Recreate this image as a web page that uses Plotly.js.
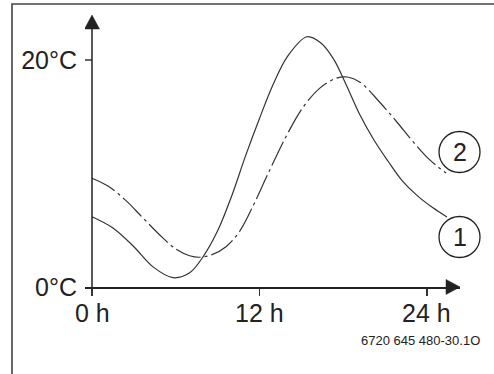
<!DOCTYPE html>
<html>
<head>
<meta charset="utf-8">
<script src="https://cdn.plot.ly/plotly-3.0.1.min.js"></script>
<style>html,body{margin:0;padding:0;background:#fff;}#chart{width:494px;height:374px;}</style>
</head>
<body>
<div id="chart"></div>
<script>
// Curve 1 (solid)
const hours1 = [0, 1.5, 3.0, 4.4, 5.8, 7.0, 8.0, 9.0, 10.0, 11.0, 12.0, 13.0, 14.0, 15.4, 16.4, 17.3, 18.2, 19.2, 20.2, 21.2, 22.2, 23.3, 24.4, 25.43];
const temp1  = [6.19, 5.2, 3.55, 1.75, 0.82, 1.25, 2.75, 4.95, 8.0, 11.55, 14.85, 17.9, 20.3, 22.05, 21.5, 20.1, 17.85, 15.15, 12.95, 11.1, 9.4, 8.05, 7.0, 6.17];
// Curve 2 (dash-dot)
const hours2 = [0, 1.2, 2.4, 3.6, 4.8, 6.0, 7.0, 7.7, 8.6, 9.6, 10.6, 11.6, 12.6, 13.9, 15.1, 16.3, 17.5, 18.3, 19.2, 20.6, 21.9, 23.0, 24.2, 25.36];
const temp2  = [9.58, 8.85, 7.65, 6.15, 4.65, 3.35, 2.75, 2.62, 2.85, 3.55, 4.95, 7.3, 9.95, 13.25, 15.8, 17.5, 18.4, 18.5, 18.05, 16.3, 14.45, 12.8, 11.2, 10.04];

const xTickVals = [0, 12, 24];
const xTickText = ['0 h', '12 h', '24 h'];
const yTickVals = [0, 20];
const yTickText = ['0°C', '20°C'];
const curveLabels = ['1', '2'];
const codeText = '6720 645 480-30.1O';

const font = 'Liberation Sans, Arial, Helvetica, sans-serif';
const ink = '#222';

const traces = [
  {x: hours1, y: temp1, mode: 'lines', line: {shape: 'spline', smoothing: 1, color: '#333', width: 1.2}, hoverinfo: 'skip'},
  {x: hours2, y: temp2, mode: 'lines', line: {shape: 'spline', smoothing: 1, color: '#333', width: 1.2, dash: '26px,4px,3px,4px'}, hoverinfo: 'skip'}
];

const labelX = 0.9987;
const labelY = [0.1838, 0.4963];

const shapes = [
  {type: 'rect', xref: 'paper', yref: 'paper', x0: -0.1947, x1: 1.0947, y0: -0.35, y1: 1.0404, line: {color: '#444', width: 1.6}, layer: 'below'},
  {type: 'line', xref: 'x', yref: 'paper', x0: 0, x1: 0, y0: 0, y1: 0.97, line: {color: ink, width: 1.5}},
  {type: 'path', xref: 'x', yref: 'paper', xsizemode: 'pixel', ysizemode: 'pixel', xanchor: 0, yanchor: 1, path: 'M0,0 L-7.5,-14 L7.5,-14 Z', fillcolor: ink, line: {color: ink, width: 0.5}},
  {type: 'path', xref: 'paper', yref: 'paper', xsizemode: 'pixel', ysizemode: 'pixel', xanchor: 1, yanchor: 0, path: 'M0,0 L-14,7.5 L-14,-7.5 Z', fillcolor: ink, line: {color: ink, width: 0.5}}
];
curveLabels.forEach((t, i) => {
  shapes.push({type: 'circle', xref: 'paper', yref: 'paper', xsizemode: 'pixel', ysizemode: 'pixel', xanchor: labelX, yanchor: labelY[i], x0: -20.5, x1: 20.5, y0: -20.5, y1: 20.5, line: {color: ink, width: 1.3}});
});

const annotations = curveLabels.map((t, i) => ({
  text: t, xref: 'paper', yref: 'paper', x: labelX, y: labelY[i], xanchor: 'center', yanchor: 'middle', showarrow: false,
  font: {family: font, size: 25, color: ink}
}));
xTickVals.forEach((v, i) => {
  annotations.push({text: xTickText[i], xref: 'x', yref: 'paper', x: v, y: -0.0938, xanchor: 'center', yanchor: 'middle', showarrow: false,
    font: {family: font, size: 25, color: ink}});
});
annotations.push({text: codeText, xref: 'paper', yref: 'paper', x: 1.0587, y: -0.1967, xanchor: 'right', yanchor: 'middle', showarrow: false, font: {family: font, size: 13, color: ink}});

const layout = {
  width: 494, height: 374,
  margin: {l: 85, r: 34, t: 15, b: 87, pad: 0},
  paper_bgcolor: '#fff', plot_bgcolor: 'rgba(0,0,0,0)',
  showlegend: false,
  xaxis: {range: [-0.5015, 26.365], tickvals: xTickVals, ticktext: xTickText, ticks: 'outside', ticklen: 7, tickwidth: 1.2, tickcolor: '#333',
          showticklabels: false,
          showline: true, linecolor: ink, linewidth: 1.5, showgrid: false, zeroline: false, fixedrange: true},
  yaxis: {range: [0, 23.965], tickvals: yTickVals, ticktext: yTickText, ticks: 'inside', ticklen: 7, tickwidth: 1.2, tickcolor: '#666',
          showline: false, showgrid: false, zeroline: false, ticklabelstandoff: 7,
          tickfont: {family: font, size: 25, color: ink}, fixedrange: true},
  shapes: shapes,
  annotations: annotations
};

Plotly.newPlot('chart', traces, layout, {staticPlot: true, displayModeBar: false});
</script>
</body>
</html>
